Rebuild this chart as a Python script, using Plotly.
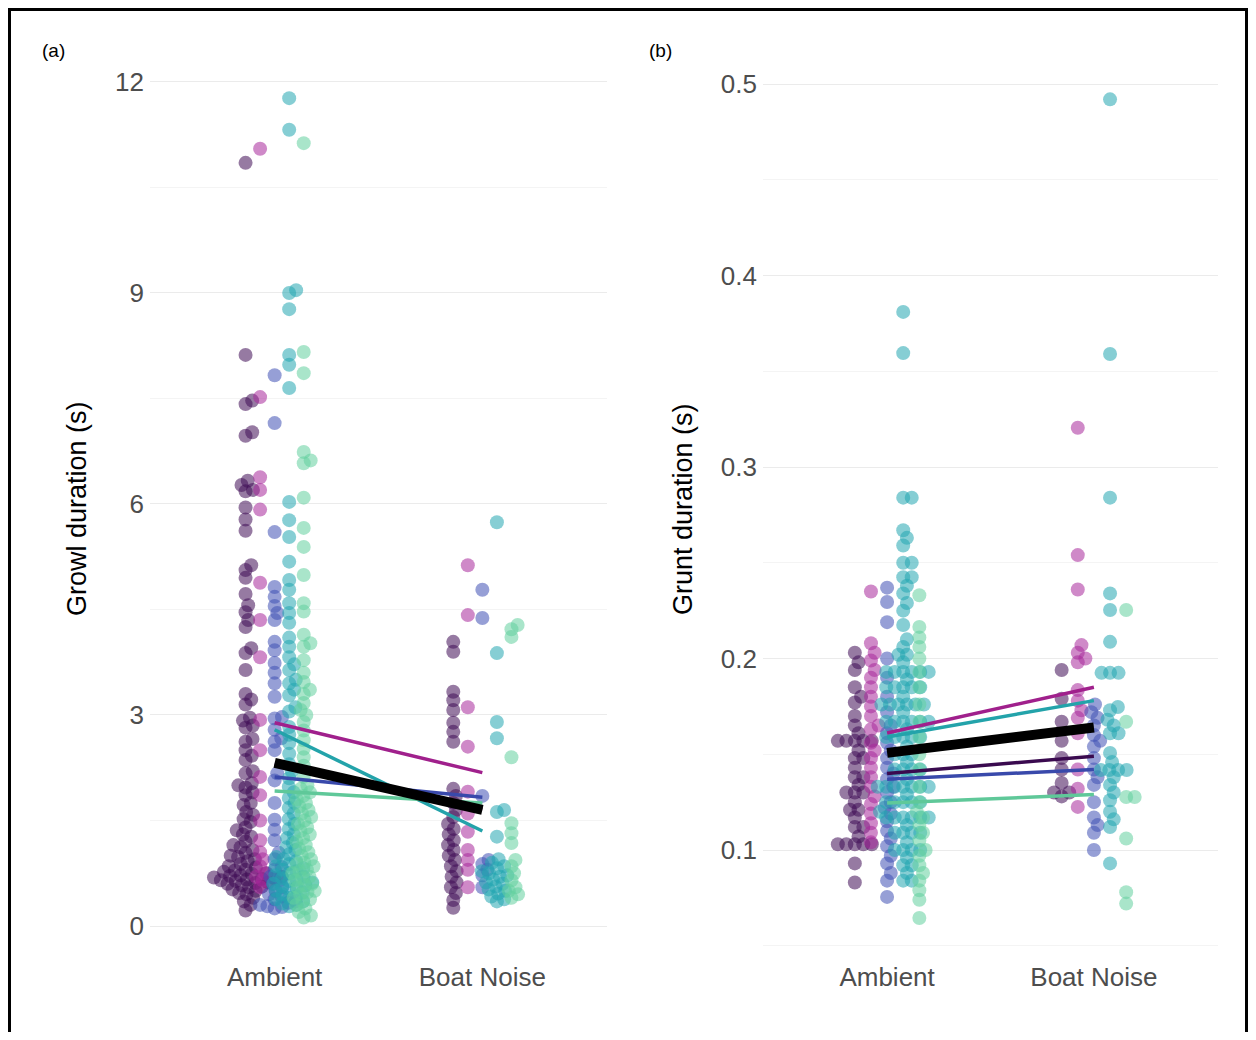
import math
import plotly.graph_objects as go

# ---------------- data ----------------
conditions = ["Ambient", "Boat Noise"]
groups = ["F1", "F2", "F3", "F4", "F5"]

point_colors = ["#3F0D56", "#A8289A", "#3F51B5", "#22A5B0", "#63CF9E"]
line_colors = ["#3A0A4F", "#A0208C", "#3949AB", "#23A3AA", "#5FC899"]

# Panel (a): growl duration (s)
growl_ambient = [
    [10.85, 8.12, 7.47, 7.42, 7.02, 6.97, 6.33, 6.27, 6.2, 6.18, 5.95, 5.78, 5.62, 5.13, 5.06, 4.95, 4.72,
     4.56, 4.46, 4.35, 4.25, 3.95, 3.88, 3.64, 3.3, 3.22, 3.15, 2.96, 2.92, 2.85, 2.82, 2.66, 2.62, 2.5,
     2.42, 2.36, 2.2, 2.17, 2.03, 2.0, 1.97, 1.9, 1.86, 1.75, 1.72, 1.62, 1.58, 1.52, 1.48, 1.4, 1.36,
     1.3, 1.27, 1.2, 1.15, 1.12, 1.08, 1.04, 1.0, 0.98, 0.95, 0.92, 0.88, 0.85, 0.83, 0.8, 0.79, 0.77,
     0.75, 0.74, 0.72, 0.71, 0.7, 0.69, 0.68, 0.67, 0.66, 0.65, 0.64, 0.62, 0.61, 0.6, 0.58, 0.56, 0.55,
     0.52, 0.5, 0.47, 0.45, 0.4, 0.35, 0.3, 0.22],
    [11.05, 7.52, 6.38, 6.2, 5.92, 4.88, 4.35, 3.82, 2.93, 2.5, 2.12, 1.86, 1.5, 1.22, 1.05, 0.95, 0.85,
     0.75, 0.7, 0.65, 0.55],
    [7.83, 7.15, 5.6, 4.82, 4.68, 4.55, 4.45, 4.35, 4.04, 3.92, 3.74, 3.6, 3.45, 3.26, 2.97, 2.95, 2.79,
     2.67, 2.62, 2.5, 2.17, 2.07, 1.75, 1.51, 1.37, 1.22, 1.04, 0.95, 0.84, 0.8, 0.7, 0.65, 0.6, 0.55,
     0.5, 0.45, 0.42, 0.38, 0.35, 0.33, 0.3, 0.28, 0.27, 0.25],
    [11.77, 11.32, 9.04, 9.0, 8.77, 8.12, 7.98, 7.65, 6.03, 5.77, 5.53, 5.18, 4.92, 4.78, 4.59, 4.45,
     4.31, 4.1, 3.97, 3.82, 3.72, 3.64, 3.5, 3.45, 3.36, 3.28, 3.11, 3.05, 2.83, 2.72, 2.6, 2.45, 2.3,
     2.2, 2.1, 1.98, 1.9, 1.82, 1.75, 1.68, 1.6, 1.52, 1.45, 1.38, 1.3, 1.25, 1.18, 1.12, 1.08, 1.02,
     0.98, 0.95, 0.92, 0.88, 0.85, 0.82, 0.8, 0.78, 0.75, 0.72, 0.7, 0.68, 0.66, 0.64, 0.62, 0.6, 0.58,
     0.56, 0.54, 0.52, 0.5, 0.48, 0.45, 0.42, 0.4, 0.38, 0.35, 0.32, 0.3, 0.28],
    [11.13, 8.16, 7.86, 6.74, 6.62, 6.58, 6.09, 5.66, 5.39, 4.99, 4.59, 4.47, 4.14, 4.02, 3.97, 3.78,
     3.6, 3.47, 3.36, 3.3, 3.17, 3.07, 3.0, 2.9, 2.78, 2.64, 2.52, 2.4, 2.28, 2.12, 2.0, 1.95, 1.9, 1.85,
     1.8, 1.75, 1.7, 1.65, 1.6, 1.55, 1.5, 1.45, 1.4, 1.35, 1.3, 1.25, 1.2, 1.15, 1.1, 1.05, 1.0, 0.95,
     0.9, 0.88, 0.85, 0.8, 0.78, 0.75, 0.7, 0.68, 0.65, 0.6, 0.58, 0.55, 0.5, 0.48, 0.45, 0.4, 0.38,
     0.35, 0.3, 0.25, 0.2, 0.15, 0.12],
]
growl_boat = [
    [4.04, 3.9, 3.33, 3.21, 3.07, 2.89, 2.76, 2.62, 1.95, 1.85, 1.75, 1.65, 1.55, 1.45, 1.38, 1.3, 1.22,
     1.15, 1.08, 1.0, 0.94, 0.85, 0.78, 0.7, 0.62, 0.55, 0.47, 0.37, 0.26],
    [5.13, 4.42, 3.11, 2.55, 1.91, 1.6, 1.34, 1.08, 0.94, 0.8, 0.55],
    [4.78, 4.38, 1.85, 0.94, 0.88, 0.8, 0.72, 0.55],
    [5.74, 3.88, 2.9, 2.67, 1.65, 1.62, 1.27, 0.95, 0.9, 0.85, 0.82, 0.78, 0.75, 0.72, 0.7, 0.66, 0.62,
     0.6, 0.56, 0.52, 0.5, 0.46, 0.42, 0.38, 0.35],
    [4.28, 4.22, 4.11, 2.4, 1.46, 1.32, 1.18, 0.94, 0.85, 0.75, 0.65, 0.55, 0.5, 0.45, 0.4],
]
growl_fit_ambient = [2.30, 2.89, 2.12, 2.79, 1.92]
growl_fit_boat = [1.66, 2.18, 1.83, 1.35, 1.75]
growl_overall = [2.32, 1.65]

# Panel (b): grunt duration (s)
grunt_ambient = [
    [0.203, 0.198, 0.194, 0.185, 0.18, 0.177, 0.17, 0.165, 0.161, 0.157, 0.157, 0.157, 0.157, 0.157,
     0.152, 0.148, 0.148, 0.143, 0.138, 0.138, 0.134, 0.13, 0.13, 0.13, 0.125, 0.121, 0.121, 0.117,
     0.112, 0.112, 0.107, 0.103, 0.103, 0.103, 0.103, 0.103, 0.093, 0.083],
    [0.235, 0.208, 0.203, 0.199, 0.194, 0.19, 0.185, 0.18, 0.175, 0.17, 0.165, 0.163, 0.156, 0.152,
     0.148, 0.143, 0.138, 0.133, 0.128, 0.124, 0.119, 0.114, 0.109, 0.104],
    [0.237, 0.2295, 0.219, 0.2, 0.19, 0.18, 0.172, 0.165, 0.161, 0.156, 0.152, 0.148, 0.143, 0.14,
     0.137, 0.133, 0.13, 0.125, 0.122, 0.119, 0.115, 0.11, 0.106, 0.102, 0.097, 0.093, 0.088, 0.084,
     0.0755],
    [0.381, 0.3595, 0.284, 0.284, 0.267, 0.263, 0.259, 0.25, 0.25, 0.2425, 0.2425, 0.238, 0.234, 0.229,
     0.225, 0.2175, 0.21, 0.206, 0.202, 0.202, 0.198, 0.193, 0.193, 0.193, 0.193, 0.193, 0.193, 0.189,
     0.185, 0.185, 0.185, 0.185, 0.185, 0.18, 0.176, 0.176, 0.176, 0.176, 0.176, 0.176, 0.172, 0.167,
     0.167, 0.167, 0.167, 0.167, 0.167, 0.163, 0.159, 0.159, 0.159, 0.159, 0.159, 0.154, 0.15, 0.15,
     0.15, 0.146, 0.142, 0.142, 0.142, 0.142, 0.137, 0.133, 0.133, 0.133, 0.133, 0.133, 0.133, 0.133,
     0.129, 0.125, 0.125, 0.125, 0.125, 0.125, 0.12, 0.117, 0.117, 0.117, 0.117, 0.117, 0.117, 0.113,
     0.109, 0.109, 0.109, 0.109, 0.104, 0.1, 0.1, 0.1, 0.1, 0.096, 0.092, 0.092, 0.088, 0.084, 0.084],
    [0.233, 0.2165, 0.211, 0.206, 0.2, 0.193, 0.185, 0.176, 0.167, 0.159, 0.15, 0.142, 0.133, 0.125,
     0.12, 0.117, 0.113, 0.109, 0.105, 0.1, 0.097, 0.092, 0.088, 0.084, 0.079, 0.074, 0.0645],
]
grunt_boat = [
    [0.194, 0.179, 0.167, 0.157, 0.148, 0.142, 0.135, 0.13, 0.13, 0.128],
    [0.3205, 0.254, 0.236, 0.207, 0.203, 0.2, 0.198, 0.1835, 0.178, 0.173, 0.169, 0.161, 0.142, 0.132,
     0.1225],
    [0.176, 0.172, 0.169, 0.165, 0.16, 0.157, 0.154, 0.148, 0.142, 0.138, 0.134, 0.125, 0.117, 0.113,
     0.109, 0.1],
    [0.492, 0.359, 0.284, 0.234, 0.2253, 0.2087, 0.1925, 0.1925, 0.1925, 0.1747, 0.173, 0.168, 0.165,
     0.161, 0.161, 0.1507, 0.146, 0.1418, 0.1418, 0.1418, 0.1418, 0.138, 0.134, 0.13, 0.126, 0.12,
     0.116, 0.112, 0.093],
    [0.2253, 0.167, 0.1277, 0.1277, 0.106, 0.078, 0.072],
]
grunt_fit_ambient = [0.140, 0.1611, 0.137, 0.159, 0.1245]
grunt_fit_boat = [0.149, 0.185, 0.142, 0.178, 0.129]
grunt_overall = [0.1507, 0.164]

growl_ticks = [0, 3, 6, 9, 12]
grunt_ticks = [0.1, 0.2, 0.3, 0.4, 0.5]

# ---------------- layout geometry ----------------
# The page body adds an 8 px margin, so the figure is drawn smaller
# and all screen positions below are converted with that offset.
OFF = 8
FW, FH = 1256 - 2 * OFF, 1040 - 2 * OFF
FONT = "Liberation Sans, Arial, Helvetica, sans-serif"
XRANGE = [0.4, 2.6]


def fx(px):
    return (px - OFF) / FW


def fy(py):
    return 1 - (py - OFF) / FH


panels = [
    dict(xdom=(150, 607), ydom=(58, 967), yrange=[-0.583, 12.341], dodge=0.07, spacing=7.5,
         amb=growl_ambient, boat=growl_boat, fa=growl_fit_ambient, fb=growl_fit_boat,
         ov=growl_overall, ticks=growl_ticks, minor=1.5, title="Growl duration (s)",
         label="(a)", label_x=53, title_x=77),
    dict(xdom=(763, 1218), ydom=(58, 967), yrange=[0.0389, 0.5136], dodge=0.078, spacing=8.5,
         amb=grunt_ambient, boat=grunt_boat, fa=grunt_fit_ambient, fb=grunt_fit_boat,
         ov=grunt_overall, ticks=grunt_ticks, minor=0.05, title="Grunt duration (s)",
         label="(b)", label_x=660, title_x=683),
]


def swarm(vals, ypx, d):
    """Beeswarm offsets (pixels) for values, given pixels per y unit."""
    order = sorted(range(len(vals)), key=lambda i: vals[i])
    placed = []
    offs = [0.0] * len(vals)
    for i in order:
        y = vals[i] * ypx
        near = [(px, py) for px, py in placed if abs(py - y) < d]
        cands = [0.0]
        for px, py in near:
            dx = math.sqrt(d * d - (py - y) ** 2)
            cands += [px + dx, px - dx]
        cands.sort(key=abs)
        chosen = 0.0
        for c in cands:
            if all((c - px) ** 2 + (y - py) ** 2 >= d * d - 1e-6 for px, py in near):
                chosen = c
                break
        placed.append((chosen, y))
        offs[i] = chosen
    return offs


fig = go.Figure()

for k, p in enumerate(panels):
    ax = "" if k == 0 else str(k + 1)
    xref, yref = "x" + ax, "y" + ax
    xpx = (p["xdom"][1] - p["xdom"][0]) / (XRANGE[1] - XRANGE[0])
    ypx = (p["ydom"][1] - p["ydom"][0]) / (p["yrange"][1] - p["yrange"][0])
    for g in range(5):
        for ci, data in ((1, p["amb"][g]), (2, p["boat"][g])):
            offs = swarm(data, ypx, p["spacing"])
            center = ci + (g - 2) * p["dodge"]
            xs = [center + o / xpx for o in offs]
            fig.add_trace(go.Scatter(
                x=xs, y=data, mode="markers", xaxis=xref, yaxis=yref,
                marker=dict(size=14, color=point_colors[g], opacity=0.55, line=dict(width=0)),
                showlegend=False, hoverinfo="skip"))
    for g in range(5):
        fig.add_trace(go.Scatter(
            x=[1, 2], y=[p["fa"][g], p["fb"][g]], mode="lines", xaxis=xref, yaxis=yref,
            line=dict(color=line_colors[g], width=3.5), showlegend=False, hoverinfo="skip"))
    fig.add_trace(go.Scatter(
        x=[1, 2], y=p["ov"], mode="lines", xaxis=xref, yaxis=yref,
        line=dict(color="black", width=10), showlegend=False, hoverinfo="skip"))

    xaxis = dict(
        domain=[fx(p["xdom"][0]), fx(p["xdom"][1])], range=XRANGE,
        tickvals=[1, 2], ticktext=conditions, showgrid=False, zeroline=False,
        showline=False, ticks="", tickfont=dict(family=FONT, size=26, color="#4D4D4D"),
        anchor="free", position=fy(959), fixedrange=True)
    yaxis = dict(
        domain=[fy(p["ydom"][1]), fy(p["ydom"][0])], range=p["yrange"],
        tickvals=p["ticks"], showgrid=True, gridcolor="#EBEBEB", gridwidth=1.3,
        zeroline=False, showline=False, ticks="",
        tickfont=dict(family=FONT, size=26, color="#4D4D4D"),
        minor=dict(dtick=p["minor"], tick0=0, showgrid=True, gridcolor="#F4F4F4", gridwidth=1),
        anchor=xref, fixedrange=True, ticklabelstandoff=5)
    fig.update_layout(**{"xaxis" + ax: xaxis, "yaxis" + ax: yaxis})

    fig.add_annotation(text=p["title"], x=fx(p["title_x"]), y=fy(509), xref="paper", yref="paper",
                       showarrow=False, textangle=-90, font=dict(family=FONT, size=27, color="black"),
                       xanchor="center", yanchor="middle")
    fig.add_annotation(text=p["label"], x=fx(p["label_x"]), y=fy(50), xref="paper", yref="paper",
                       showarrow=False, font=dict(family=FONT, size=19, color="black"),
                       xanchor="center", yanchor="middle")

# outer frame (left, top, right edges; the bottom edge is cropped in the reference)
fig.add_shape(type="rect", xref="paper", yref="paper", x0=fx(9.5), x1=fx(1246.5), y0=-0.05, y1=fy(9.5),
              line=dict(color="black", width=3), fillcolor="rgba(0,0,0,0)", layer="above")

fig.update_layout(
    width=FW, height=FH, margin=dict(l=0, r=0, t=0, b=0, autoexpand=False),
    paper_bgcolor="white", plot_bgcolor="white", showlegend=False,
    font=dict(family=FONT),
)

fig.write_html("out.html")
